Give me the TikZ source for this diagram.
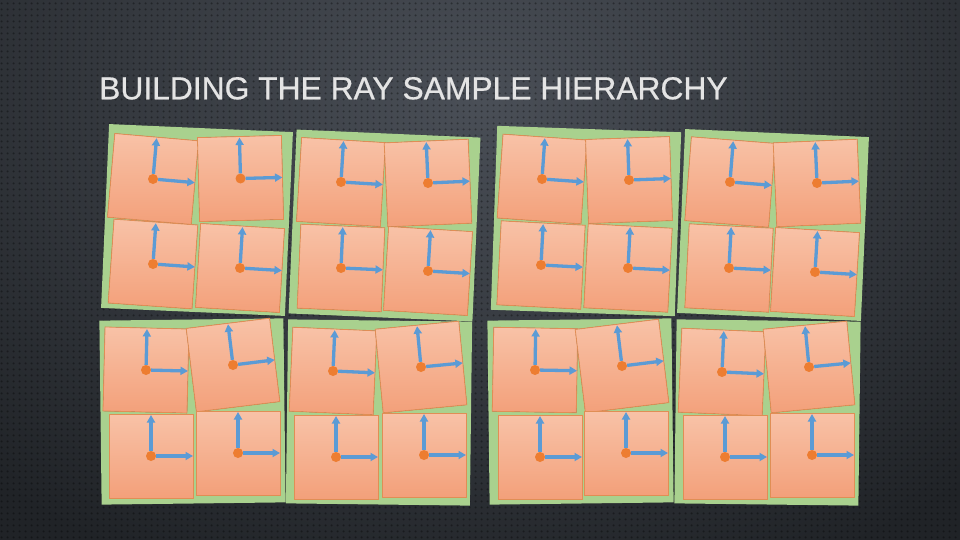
\documentclass[tikz,border=0pt]{standalone}
\usepackage{fontspec}
\setmainfont{Liberation Sans}
\newfontfamily\titlefont[FakeBold=0.6]{Liberation Sans}
\usepackage{tikz}
\usetikzlibrary{arrows.meta,patterns.meta}

\definecolor{bgdark}{HTML}{202327}
\definecolor{bgmid}{HTML}{4A4F57}
\definecolor{titlegray}{HTML}{E4E4E4}
\definecolor{groupgreen}{HTML}{A9D18E}
\definecolor{tiletop}{HTML}{F8C2A7}
\definecolor{tilebottom}{HTML}{F3A07A}
\definecolor{tileline}{HTML}{E08E55}
\definecolor{dotorange}{HTML}{ED7D31}
\definecolor{axisblue}{HTML}{5B9BD5}

\tikzdeclarepattern{
  name=meshdots,
  type=uncolored,
  bottom left={(0pt,0pt)},
  top right={(6pt,6pt)},
  tile size={(6pt,6pt)},
  code={\pgfpathcircle{\pgfqpoint{3pt}{3pt}}{1.3pt}\pgfusepath{fill}}
}

\begin{document}
\begin{tikzpicture}[x=1pt, y=-1pt, >={Triangle[length=7.5pt, width=8pt]},
    group/.style={fill=groupgreen},
    tile/.style={draw=tileline, line width=0.8pt, top color=tiletop, bottom color=tilebottom},
    sampledot/.style={circle, fill=dotorange, inner sep=0pt, minimum size=10pt},
    axis/.style={axisblue, line width=3.3pt}]
    \useasboundingbox (0,0) rectangle (960,540);

    % Carbon background
    \fill[bgdark] (0,0) rectangle (960,540);
    \begin{scope}
        \clip (0,0) rectangle (960,540);
        \shade[inner color=bgmid, outer color=bgdark] (-240,-420) rectangle (1200,620);
    \end{scope}
    \fill[pattern=meshdots, pattern color=black, opacity=0.35] (0,0) rectangle (960,540);

    % Title
    \node[anchor=base west, inner sep=0pt, text=titlegray,
          font=\titlefont\fontsize{31.8}{36}\selectfont] (title) at (99,99.3)
          {BUILDING THE RAY SAMPLE HIERARCHY};

    % Green groups of four samples
    \foreach \gx/\gy/\ga in {197/220/-2.5, 384.5/225.5/-2.5, 586/221/-2, 773/225/-2.5,
                             192.5/411.5/0.7, 379/412.5/-0.7, 580.5/411.5/0.7, 767.5/412.5/-0.7} {
        \fill[group, shift={(\gx,\gy)}, rotate=\ga] (-92,-92) rectangle (92,92);
    }

    % Sample tiles: dot with its two axes
    \foreach \cx/\cy/\ca in {153/179/-5, 240.5/178.5/1.5, 153/264/-4, 240/268/-3.5,
                             341/182/-3.5, 428/183/2.5, 341/268/-2.5, 428/271/-3.5,
                             542/179/-4, 629/180/2, 541/265/-3, 628/268/-3,
                             730/182/-4.5, 817/183/2.5, 729/268/-3, 815/272/-3.5,
                             146/370/-1.4, 233/365/7, 151/456/0, 238/453/0,
                             333/371/-2.5, 421/367/5.5, 336/457/0, 424/455/0,
                             535/370/-1, 622/366/7, 540/457/0, 626/453/0,
                             722/372/-2.5, 809/367/5.5, 725/457/0, 812/455/0} {
        \begin{scope}[shift={(\cx,\cy)}, rotate=\ca]
            \filldraw[tile] (-42,-42) rectangle (42,42);
            \node[sampledot] (dot) at (0,0) {};
            \coordinate (up) at (0,-41);
            \coordinate (right) at (42,0);
            \draw[axis, ->] (dot) -- (up);
            \draw[axis, ->] (dot) -- (right);
        \end{scope}
    }
\end{tikzpicture}
\end{document}
